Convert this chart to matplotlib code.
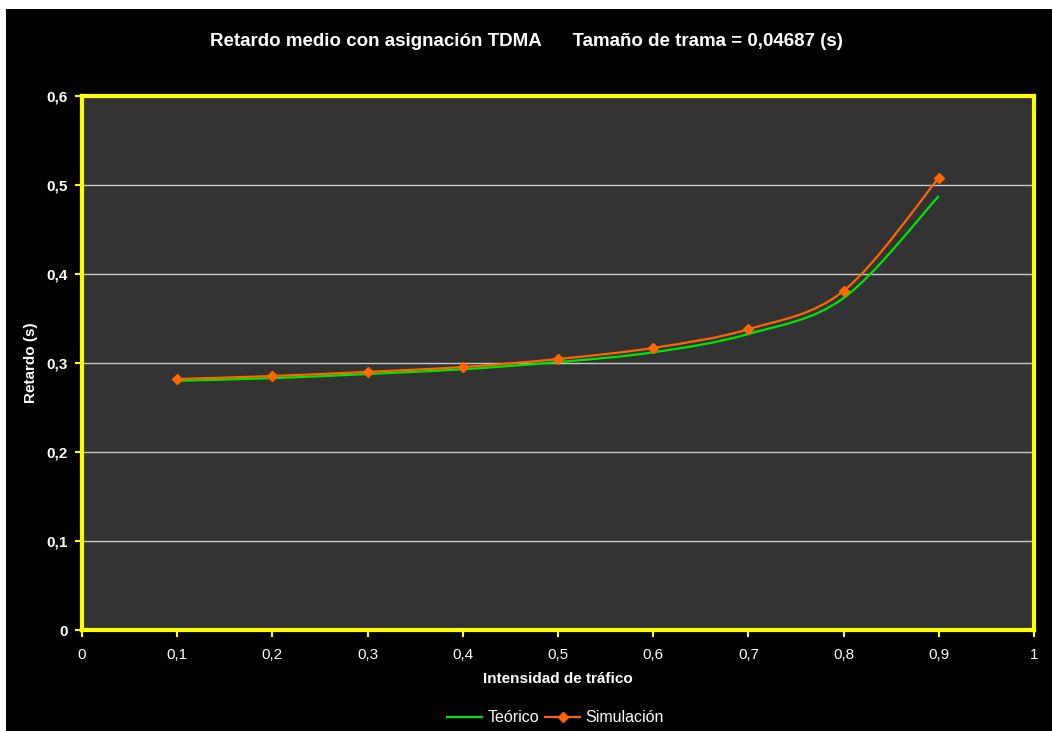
import numpy as np
import matplotlib
matplotlib.use('Agg')
import matplotlib.pyplot as plt
from matplotlib.path import Path
from matplotlib.patches import PathPatch, Rectangle

plt.rcParams['font.family'] = ['Liberation Sans', 'DejaVu Sans']

intensidad = [0.1, 0.2, 0.3, 0.4, 0.5, 0.6, 0.7, 0.8, 0.9]
teorico = [0.280, 0.283, 0.2876, 0.293, 0.301, 0.312, 0.3326, 0.373, 0.4876]
simulacion = [0.282, 0.2854, 0.290, 0.2955, 0.3045, 0.317, 0.338, 0.381, 0.508]

x_ticks = [0, 0.1, 0.2, 0.3, 0.4, 0.5, 0.6, 0.7, 0.8, 0.9, 1]
y_ticks = [0, 0.1, 0.2, 0.3, 0.4, 0.5, 0.6]


def fmt(v):
    return ('%g' % v).replace('.', ',')


def smooth_path(x, y):
    # curva suavizada tipo Excel (bezier por tramos)
    p = np.column_stack([x, y])
    verts = [p[0]]
    codes = [Path.MOVETO]
    n = len(p)
    for i in range(n - 1):
        p0 = p[i - 1] if i > 0 else p[i]
        p3 = p[i + 2] if i + 2 < n else p[i + 1]
        c1 = p[i] + (p[i + 1] - p0) / 6
        c2 = p[i + 1] - (p3 - p[i]) / 6
        verts += [c1, c2, p[i + 1]]
        codes += [Path.CURVE4] * 3
    return Path(verts, codes)


fig = plt.figure(figsize=(10.52, 7.31), dpi=100, facecolor='white')
fig.patches.append(Rectangle((6 / 1052, 0), 1, 1 - 9 / 731, transform=fig.transFigure,
                             facecolor='black', edgecolor='none', zorder=-10))

ax = fig.add_axes([82 / 1052, 1 - 630 / 731, (1034 - 82) / 1052, (630 - 96) / 731])
ax.set_facecolor('#333333')

for yv in y_ticks[1:-1]:
    ax.axhline(yv, color='#c8c8c8', linewidth=1, zorder=1)

ax.add_patch(PathPatch(smooth_path(intensidad, teorico), facecolor='none',
                       edgecolor='#00e600', linewidth=1.6, zorder=3))
ax.add_patch(PathPatch(smooth_path(intensidad, simulacion), facecolor='none',
                       edgecolor='#ff6600', linewidth=1.6, zorder=4))
ax.plot(intensidad, simulacion, linestyle='none', marker='D', markersize=5,
        color='#ff6600', zorder=5)

ax.plot([], [], color='#00e600', linewidth=1.6, label='Teórico')
ax.plot([], [], color='#ff6600', linewidth=1.6, marker='D', markersize=5, label='Simulación')

ax.set_xlim(0, 1)
ax.set_ylim(0, 0.6)
ax.set_xticks(x_ticks)
ax.set_xticklabels([fmt(v) for v in x_ticks], color='white', fontsize=11)
ax.set_yticks(y_ticks)
ax.set_yticklabels([fmt(v) for v in y_ticks], color='white', fontsize=11, fontweight='bold')
ax.tick_params(colors='yellow', length=5, width=1.5, direction='out')
ax.tick_params(axis='x', pad=8)
ax.tick_params(axis='y', pad=5)
for lbl in ax.get_xticklabels() + ax.get_yticklabels():
    lbl.set_color('white')

for s in ax.spines.values():
    s.set_color('yellow')
    s.set_linewidth(3)

ax.set_xlabel('Intensidad de tráfico', color='white', fontsize=11, fontweight='bold', labelpad=7)
ax.set_ylabel('Retardo (s)', color='white', fontsize=11, fontweight='bold', labelpad=6)

fig.text(0.5, 1 - 41 / 731, 'Retardo medio con asignación TDMA      Tamaño de trama = 0,04687 (s)',
         color='white', fontsize=13.5, fontweight='bold', ha='center', va='center')

leg = fig.legend(loc='center', bbox_to_anchor=(0.528, 1 - 718 / 731), ncol=2, frameon=False,
                 fontsize=11.5, handlelength=2.2, columnspacing=0.4, handletextpad=0.3)
for t in leg.get_texts():
    t.set_color('white')

fig.savefig('out.png', dpi=100, facecolor=fig.get_facecolor())
